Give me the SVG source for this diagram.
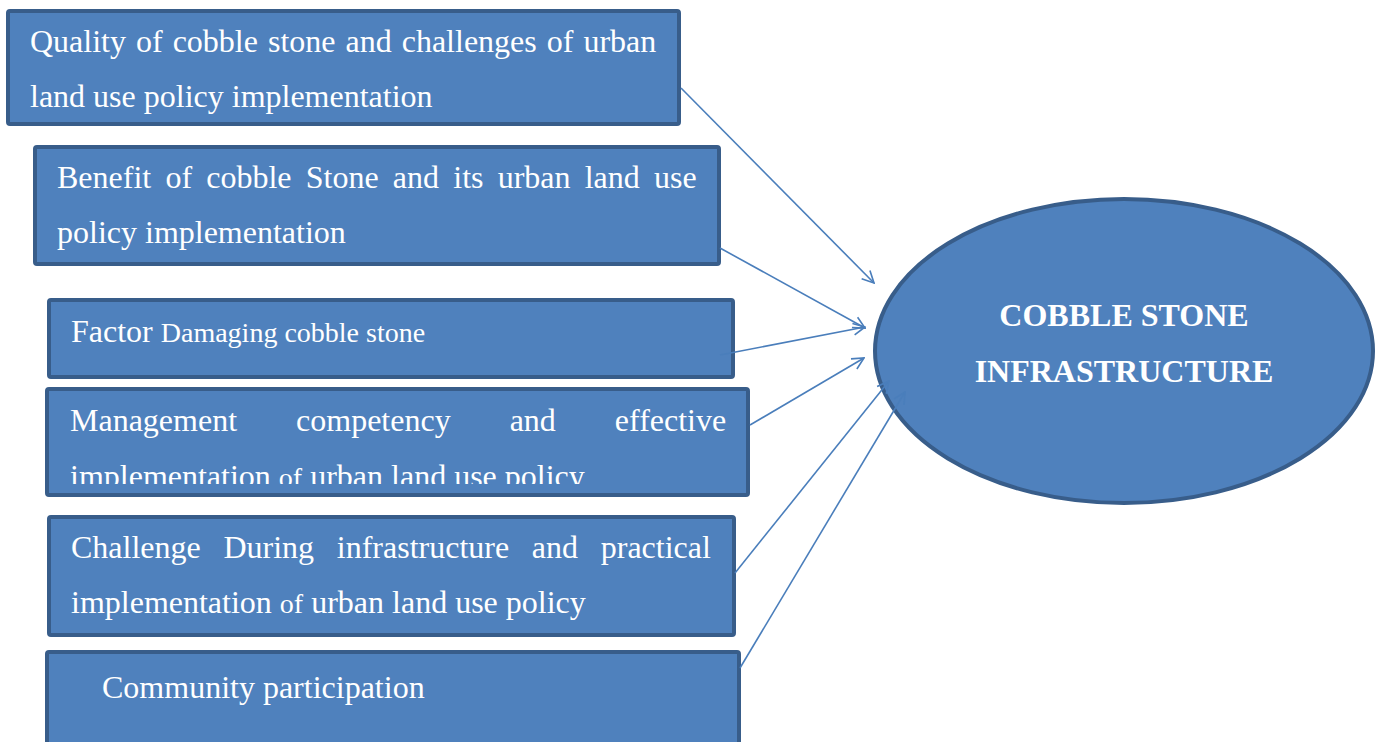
<svg xmlns="http://www.w3.org/2000/svg" width="1383" height="742" viewBox="0 0 1383 742">
<style>
.box{fill:#4f81bd;stroke:#385d8a;stroke-width:4}
.t{font-family:"Liberation Serif","Times New Roman",serif;font-size:32px;fill:#ffffff}
.s{font-size:28px}
.b{font-family:"Liberation Serif","Times New Roman",serif;font-size:32px;font-weight:bold;fill:#ffffff;text-anchor:middle}
.c{stroke:#4a7ebb;stroke-width:1.6;fill:none;marker-end:url(#ah)}
</style>
<defs>
<marker id="ah" viewBox="0 0 12 12" refX="11" refY="6" markerWidth="14" markerHeight="14" markerUnits="userSpaceOnUse" orient="auto">
<path d="M1,1 L11,6 L1,11" fill="none" stroke="#4a7ebb" stroke-width="1.4"/>
</marker>
<clipPath id="clip4"><rect x="45" y="387" width="705" height="97"/></clipPath>
</defs>
<rect width="1383" height="742" fill="#ffffff"/>
<g id="n1">
<rect class="box" x="8" y="11" width="671" height="113" rx="2"/>
<text class="t" x="30" y="52" word-spacing="2">Quality of cobble stone and challenges of urban</text>
<text class="t" x="30" y="107">land use policy implementation</text>
</g>
<g id="n2">
<rect class="box" x="35" y="147" width="684" height="117" rx="2"/>
<text class="t" x="57" y="188" word-spacing="6.2">Benefit of cobble Stone and its urban land use</text>
<text class="t" x="57" y="243">policy implementation</text>
</g>
<g id="n3">
<rect class="box" x="49" y="300" width="684" height="77" rx="2"/>
<text class="t" x="71" y="342">Factor <tspan class="s">Damaging cobble stone</tspan></text>
</g>
<g id="n4">
<rect class="box" x="47" y="389" width="701" height="106" rx="2"/>
<text class="t" x="70" y="431" word-spacing="51">Management competency and effective</text>
<text class="t" x="70" y="487" clip-path="url(#clip4)">implementation <tspan class="s">of</tspan> urban land use policy</text>
</g>
<g id="n5">
<rect class="box" x="49" y="517" width="685" height="118" rx="2"/>
<text class="t" x="71" y="558" word-spacing="14.7">Challenge During infrastructure and practical</text>
<text class="t" x="71" y="613">implementation <tspan class="s">of</tspan> urban land use policy</text>
</g>
<g id="n6">
<rect class="box" x="47" y="652" width="692" height="100" rx="2"/>
<text class="t" x="102" y="698">Community participation</text>
</g>
<g id="center">
<ellipse cx="1124" cy="351" rx="249" ry="152" fill="#4f81bd" stroke="#385d8a" stroke-width="4"/>
<text class="b" x="1124" y="326">COBBLE STONE</text>
<text class="b" x="1124" y="382">INFRASTRUCTURE</text>
</g>
<g id="connectors">
<line class="c" x1="681" y1="88" x2="874" y2="283"/>
<line class="c" x1="720" y1="248" x2="865" y2="328"/>
<line class="c" x1="720" y1="355" x2="865" y2="327"/>
<line class="c" x1="750" y1="425" x2="864" y2="358"/>
<line class="c" x1="735" y1="573" x2="889" y2="381"/>
<line class="c" x1="740" y1="668" x2="905" y2="392"/>
</g>
</svg>
